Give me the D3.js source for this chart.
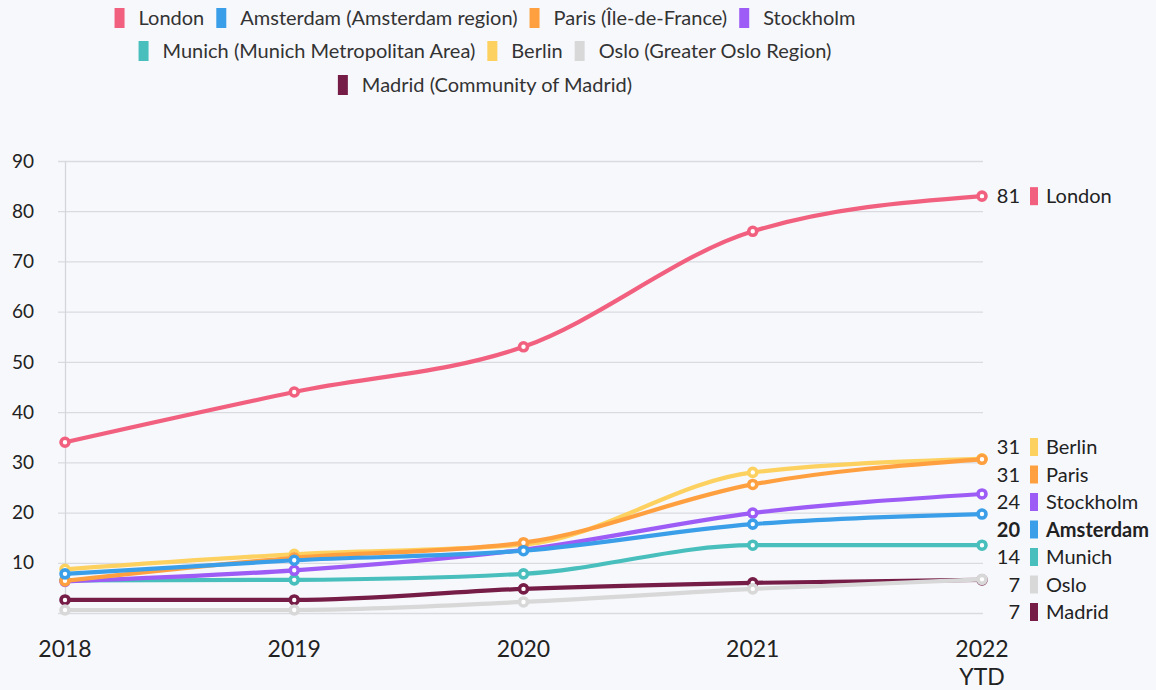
<!DOCTYPE html>
<html><head><meta charset="utf-8">
<script src="https://cdn.jsdelivr.net/npm/d3@7"></script>
<style>
html,body{margin:0;padding:0;background:#f7f8fc;}
svg{display:block;font-family:"Source Sans Pro",Lato,"Noto Sans",sans-serif;}
</style></head><body>
<svg id="chart" width="1156" height="690"></svg>
<script>
// ---- data ----
const years = ["2018", "2019", "2020", "2021", "2022"];
const yearSubLabels = ["", "", "", "", "YTD"];
const yTicks = [10, 20, 30, 40, 50, 60, 70, 80, 90];

const legendNames = ["London", "Amsterdam (Amsterdam region)", "Paris (Île-de-France)", "Stockholm",
  "Munich (Munich Metropolitan Area)", "Berlin", "Oslo (Greater Oslo Region)", "Madrid (Community of Madrid)"];
const shortNames = ["London", "Amsterdam", "Paris", "Stockholm", "Munich", "Berlin", "Oslo", "Madrid"];
const colors = ["#f2607f", "#3a9fe8", "#ffa040", "#9d5cf6", "#48bfbd", "#fdd15f", "#d8d8d8", "#761d47"];
const legendRows = [[0, 1, 2, 3], [4, 5, 6], [7]];

const london    = [34, 44, 53, 76, 83];
const amsterdam = [7.8, 10.5, 12.4, 17.7, 19.7];
const paris     = [6.4, 11, 14, 25.6, 30.6];
const stockholm = [6.3, 8.5, 12.6, 19.9, 23.7];
const munich    = [6.5, 6.6, 7.8, 13.5, 13.5];
const berlin    = [8.7, 11.7, 13.6, 28, 30.7];
const oslo      = [0.6, 0.6, 2.2, 4.8, 6.7];
const madrid    = [2.6, 2.6, 4.8, 6.0, 6.6];
const endLabels = ["81", "20", "31", "24", "14", "31", "7", "7"];
const highlighted = "Amsterdam";

const seriesValues = [london, amsterdam, paris, stockholm, munich, berlin, oslo, madrid];
const drawOrder = [7, 6, 5, 4, 3, 2, 0, 1];

// ---- layout ----
const svg = d3.select("#chart");
const x = d3.scalePoint().domain(years).range([65, 982]);
const y = d3.scaleLinear().domain([0, 90]).range([613, 161]);
const textColor = "#222";

// gridlines
svg.append("g").selectAll("line").data([0].concat(yTicks)).join("line")
  .attr("x1", 58).attr("x2", 983)
  .attr("y1", d => y(d) + 0.5).attr("y2", d => y(d) + 0.5)
  .attr("stroke", "#d9dbe0").attr("stroke-width", 1.3);
svg.append("line").attr("x1", 65.5).attr("x2", 65.5).attr("y1", y(90)).attr("y2", y(0) + 2)
  .attr("stroke", "#d3d5da").attr("stroke-width", 1.3);

// y labels
svg.append("g").selectAll("text").data(yTicks).join("text")
  .attr("x", 34).attr("y", d => y(d)).attr("dy", "0.35em")
  .attr("text-anchor", "end").attr("font-size", 19).attr("fill", textColor)
  .text(d => d);

// x labels
const xl = svg.append("g").selectAll("g").data(years).join("g");
xl.append("text").attr("x", d => x(d)).attr("y", 657).attr("text-anchor", "middle")
  .attr("font-size", 23).attr("fill", textColor).text(d => d);
xl.append("text").attr("x", d => x(d)).attr("y", 685).attr("text-anchor", "middle")
  .attr("font-size", 23).attr("fill", textColor).text((d, i) => yearSubLabels[i]);

// lines
const line = d3.line().x((d, i) => x(years[i])).y(d => y(d)).curve(d3.curveMonotoneX);
const lines = svg.append("g");
drawOrder.forEach(si => {
  const g = lines.append("g");
  g.append("path").attr("d", line(seriesValues[si])).attr("fill", "none")
    .attr("stroke", colors[si]).attr("stroke-width", 4.2).attr("stroke-linecap", "round");
  g.selectAll("circle").data(seriesValues[si]).join("circle")
    .attr("cx", (d, i) => x(years[i])).attr("cy", d => y(d)).attr("r", 4)
    .attr("fill", "#fff").attr("stroke", colors[si]).attr("stroke-width", 3.6);
});

// end labels: push down from targets, then clamp to the bottom
const last = years.length - 1;
let labs = seriesValues.map((v, i) => ({i, target: y(v[last]), pos: y(v[last])}));
labs.sort((a, b) => a.target - b.target);
const gap = 27.5, maxY = y(0) - 1;
for (let k = 1; k < labs.length; k++) labs[k].pos = Math.max(labs[k].target, labs[k - 1].pos + gap);
labs[labs.length - 1].pos = Math.min(labs[labs.length - 1].pos, maxY);
for (let k = labs.length - 2; k >= 0; k--) labs[k].pos = Math.min(labs[k].pos, labs[k + 1].pos - gap);

const el = svg.append("g").selectAll("g").data(labs).join("g")
  .attr("transform", d => `translate(0,${d.pos})`);
el.append("text").attr("x", 1020).attr("dy", "0.35em").attr("text-anchor", "end")
  .attr("font-size", 20).attr("fill", textColor)
  .attr("font-weight", d => shortNames[d.i] === highlighted ? "bold" : "normal")
  .text(d => endLabels[d.i]);
el.append("rect").attr("x", 1030).attr("y", -9).attr("width", 8).attr("height", 18)
  .attr("fill", d => colors[d.i]);
el.append("text").attr("x", 1046).attr("dy", "0.35em")
  .attr("font-size", 20).attr("fill", textColor)
  .attr("font-weight", d => shortNames[d.i] === highlighted ? "bold" : "normal")
  .text(d => shortNames[d.i]);

// legend
const legend = svg.append("g");
const rowY = [18, 51, 85];
const legCenter = 485, rectW = 10, rectH = 20, rectGap = 14, itemGap = 12;
legendRows.forEach((row, r) => {
  const g = legend.append("g");
  let cx = 0;
  row.forEach(si => {
    g.append("rect").attr("x", cx).attr("y", rowY[r] - rectH / 2).attr("width", rectW).attr("height", rectH)
      .attr("fill", colors[si]);
    const t = g.append("text").attr("x", cx + rectW + rectGap).attr("y", rowY[r]).attr("dy", "0.35em")
      .attr("font-size", 20).attr("fill", "#333").text(legendNames[si]);
    cx += rectW + rectGap + t.node().getComputedTextLength() + itemGap;
  });
  const total = cx - itemGap;
  g.attr("transform", `translate(${legCenter - total / 2},0)`);
});
</script>
</body></html>
